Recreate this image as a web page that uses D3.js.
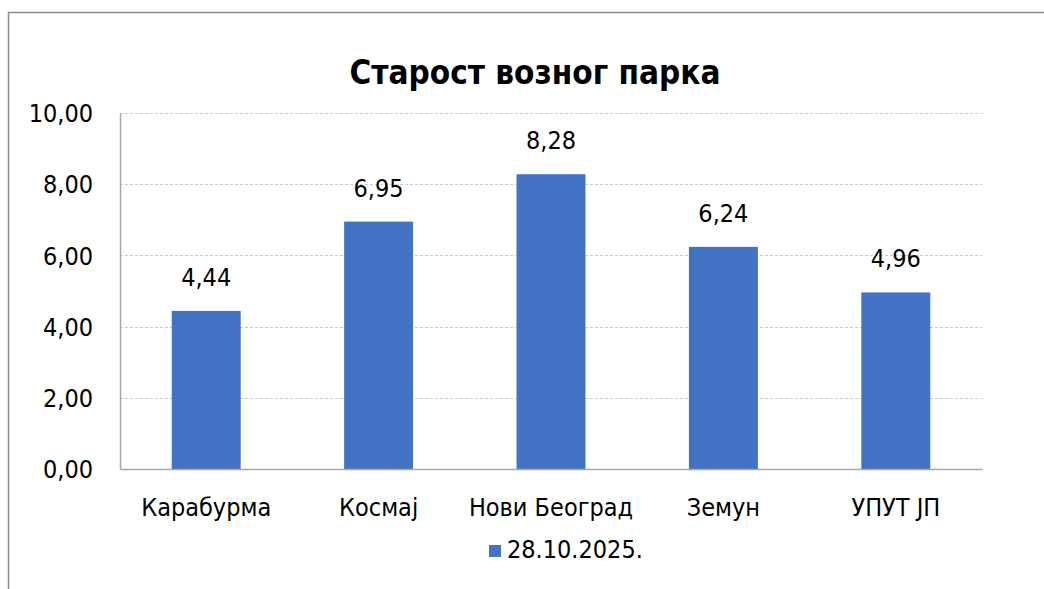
<!DOCTYPE html>
<html>
<head>
<meta charset="utf-8">
<script src="https://cdn.jsdelivr.net/npm/d3@7"></script>
<style>
  body { margin: 0; background: #fff; }
  text { font-family: "Liberation Sans Narrow", "DejaVu Sans Condensed", "Noto Sans", sans-serif; fill: #000; }
</style>
</head>
<body>
<div id="chart"></div>
<script>
const categories = ["Карабурма", "Космај", "Нови Београд", "Земун", "УПУТ ЈП"];
const values = [4.44, 6.95, 8.28, 6.24, 4.96];
const yTicks = [0, 2, 4, 6, 8, 10];
const seriesName = "28.10.2025.";
const title = "Старост возног парка";

const width = 1044;
const height = 589;
const margin = { top: 113, right: 62, bottom: 120, left: 120 };
const fontSize = 25;

const fmt = v => d3.format(".2f")(v).replace(".", ",");

const svg = d3.select("#chart").append("svg")
    .attr("width", width)
    .attr("height", height);

// outer chart frame (runs off the right and bottom edges)
svg.append("rect")
    .attr("x", 8.5).attr("y", 12.5)
    .attr("width", width + 20).attr("height", height + 20)
    .attr("fill", "none")
    .attr("stroke", "#8c8c8c")
    .attr("stroke-width", 1.5);

const x = d3.scaleBand()
    .domain(categories)
    .range([margin.left, width - margin.right])
    .paddingInner(0.6)
    .paddingOuter(0.3);

const y = d3.scaleLinear()
    .domain([0, 10])
    .range([height - margin.bottom, margin.top]);

// gridlines
svg.append("g")
  .selectAll("line")
  .data(yTicks.filter(d => d > 0))
  .join("line")
    .attr("x1", margin.left).attr("x2", width - margin.right)
    .attr("y1", d => Math.round(y(d)) + 0.5).attr("y2", d => Math.round(y(d)) + 0.5)
    .attr("stroke", "#c8c8c8")
    .attr("stroke-dasharray", "3,2");

// y axis
const yAxis = svg.append("g")
    .attr("transform", `translate(${margin.left},0)`)
    .call(d3.axisLeft(y).tickValues(yTicks).tickFormat(fmt).tickSize(0).tickPadding(27));
yAxis.select(".domain").attr("stroke", "#a6a6a6").attr("stroke-width", 1.5);
yAxis.selectAll("text").attr("font-size", fontSize).attr("dy", "0.35em");

// bars
svg.append("g")
  .selectAll("rect")
  .data(values)
  .join("rect")
    .attr("x", (d, i) => x(categories[i]))
    .attr("y", d => y(d))
    .attr("width", x.bandwidth())
    .attr("height", d => y(0) - y(d))
    .attr("fill", "#4472c4");

// x axis
const xAxis = svg.append("g")
    .attr("transform", `translate(0,${y(0)})`)
    .call(d3.axisBottom(x).tickSize(0).tickPadding(29).tickSizeOuter(0));
xAxis.select(".domain").attr("stroke", "#a6a6a6").attr("stroke-width", 1.5);
xAxis.selectAll("text").attr("font-size", fontSize);

// data labels
svg.append("g")
  .selectAll("text")
  .data(values)
  .join("text")
    .attr("x", (d, i) => x(categories[i]) + x.bandwidth() / 2)
    .attr("y", d => y(d) - 25)
    .attr("text-anchor", "middle")
    .attr("font-size", fontSize)
    .text(fmt);

// title
svg.append("text")
    .attr("x", 535)
    .attr("y", 84)
    .attr("text-anchor", "middle")
    .attr("font-size", 33)
    .attr("font-weight", "bold")
    .text(title);

// legend
const legend = svg.append("g").attr("transform", "translate(489,545)");
legend.append("rect")
    .attr("width", 12).attr("height", 12)
    .attr("fill", "#4472c4");
legend.append("text")
    .attr("x", 18).attr("y", 13)
    .attr("font-size", fontSize)
    .text(seriesName);
</script>
</body>
</html>
